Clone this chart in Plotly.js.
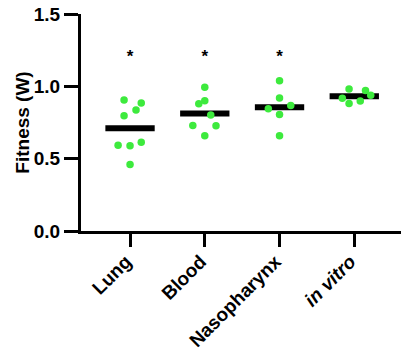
<!DOCTYPE html>
<html>
<head>
<meta charset="utf-8">
<script src="https://cdn.plot.ly/plotly-3.0.1.min.js"></script>
<style>html,body{margin:0;padding:0;background:#fff;}#chart{width:401px;height:353px;}</style>
</head>
<body>
<div id="chart"></div>
<script>
// ---- data ----
const categories = ["Lung", "Blood", "Nasopharynx", "in vitro"];
const tickLabels = ["Lung", "Blood", "Nasopharynx", "<i>in vitro</i>"];
const yTickValues = [0, 0.5, 1.0, 1.5];
const yTickLabels = ["0.0", "0.5", "1.0", "1.5"];
const lungValues = [0.905, 0.884, 0.836, 0.796, 0.593, 0.589, 0.614, 0.460];
const bloodValues = [0.993, 0.880, 0.900, 0.801, 0.730, 0.727, 0.658];
const nasoValues = [1.039, 0.919, 0.868, 0.845, 0.806, 0.658];
const invitroValues = [0.981, 0.972, 0.938, 0.917, 0.882, 0.898];
const significant = [true, true, true, false];
const starLevel = 1.20;

// ---- horizontal scatter offsets (layout only) ----
const lungJitter = [-0.08, 0.15, 0.08, -0.08, -0.16, 0, 0.15, 0];
const bloodJitter = [0, -0.08, 0, 0.08, -0.16, 0.15, 0];
const nasoJitter = [0, 0, 0.15, -0.15, 0, 0];
const invitroJitter = [-0.07, 0.15, 0.22, -0.16, -0.07, 0.08];

const groups = [lungValues, bloodValues, nasoValues, invitroValues];
const jitters = [lungJitter, bloodJitter, nasoJitter, invitroJitter];
const FONT = 'Liberation Sans';

const traces = [];
groups.forEach((vals, i) => {
  const mean = vals.reduce((a, b) => a + b, 0) / vals.length;
  traces.push({
    x: [i - 0.33, i + 0.33], y: [mean, mean], mode: 'lines', type: 'scatter',
    line: {color: '#000', width: 6}, hoverinfo: 'skip', showlegend: false
  });
  traces.push({
    x: vals.map((v, k) => i + jitters[i][k]), y: vals, mode: 'markers', type: 'scatter',
    marker: {color: '#3dea3d', size: 7.5}, showlegend: false
  });
});
const starX = [], starY = [], starT = [];
significant.forEach((s, i) => { if (s) { starX.push(i); starY.push(starLevel); starT.push('*'); } });
traces.push({
  x: starX, y: starY, text: starT, mode: 'text', type: 'scatter',
  textfont: {family: FONT, size: 17, color: '#000', weight: 'bold'},
  showlegend: false
});

const layout = {
  width: 401, height: 353,
  margin: {l: 81, r: 0, t: 14, b: 122},
  paper_bgcolor: '#fff', plot_bgcolor: '#fff',
  font: {family: FONT, color: '#000'},
  xaxis: {
    range: [-0.656, 3.625],
    tickmode: 'array', tickvals: [0, 1, 2, 3], ticktext: tickLabels,
    tickangle: -45, ticklabelshift: -4, ticklabelstandoff: -4,
    tickfont: {family: FONT, size: 19, weight: 'bold', color: '#000'},
    ticks: 'outside', ticklen: 13, tickwidth: 3, tickcolor: '#000',
    showline: true, linewidth: 3, linecolor: '#000',
    showgrid: false, zeroline: false, automargin: false
  },
  yaxis: {
    range: [0, 1.5],
    tickmode: 'array', tickvals: yTickValues, ticktext: yTickLabels,
    tickfont: {family: FONT, size: 19, weight: 'bold', color: '#000'},
    ticks: 'outside', ticklen: 14, tickwidth: 3, tickcolor: '#000',
    showline: true, linewidth: 3, linecolor: '#000',
    showgrid: false, zeroline: false, automargin: false,
    title: {text: 'Fitness (W)', font: {family: FONT, size: 19, weight: 'bold', color: '#000'}, standoff: 0}
  },
  showlegend: false
};

Plotly.newPlot('chart', traces, layout, {staticPlot: true, displayModeBar: false});
</script>
</body>
</html>
